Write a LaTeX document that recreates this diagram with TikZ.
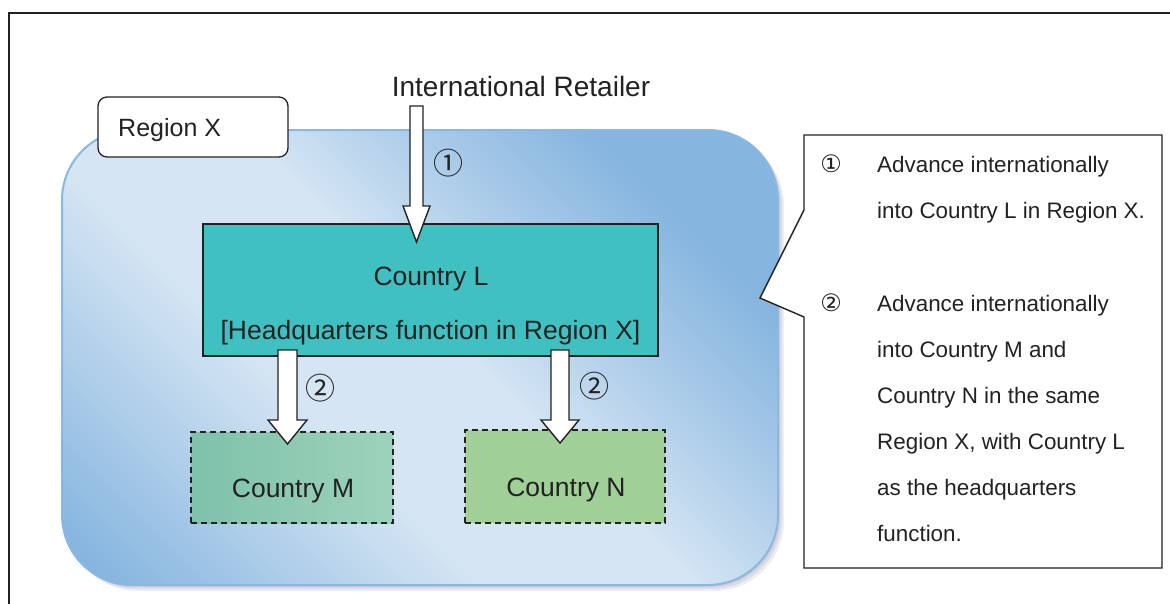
\documentclass[tikz,border=0pt]{standalone}
\usepackage{fontspec}
\setmainfont{Liberation Sans}
\newfontfamily\symfont{DejaVu Sans}
\newfontfamily\cjkfont{Noto Sans CJK JP}
\usetikzlibrary{calc}
\definecolor{rdark}{HTML}{86B5DF}
\definecolor{rlight}{HTML}{D5E5F3}
\colorlet{rmid}{rdark!50!rlight}
\definecolor{rborder}{HTML}{8AB8E0}
\definecolor{clfill}{HTML}{40C0C0}
\definecolor{cmA}{HTML}{7FC1AB}
\definecolor{cmB}{HTML}{9DD2BA}
\definecolor{cnfill}{HTML}{A0CF98}
\definecolor{inkc}{HTML}{222222}
\pgfdeclareverticalshading{regionshade}{100bp}{color(0bp)=(rdark); color(27bp)=(rdark); color(35bp)=(rmid); color(43bp)=(rlight); color(52bp)=(rlight); color(59bp)=(rmid); color(67bp)=(rdark); color(100bp)=(rdark)}
\newcommand\fsz[1]{\fontsize{#1}{#1}\selectfont}
\newcommand\blockarrow[5]{%
  \draw[blockarr] ($(#1)+(-#3,0)$) -- ($(#1)+(#3,0)$) -- ($(#2)+(#3,-#5)$) -- ($(#2)+(#4,-#5)$) -- (#2) -- ($(#2)+(-#4,-#5)$) -- ($(#2)+(-#3,-#5)$) -- cycle;}
\begin{document}
\begin{tikzpicture}[x=1pt,y=-1pt,
  framel/.style={draw=inkc,line width=2pt},
  regionbox/.style={draw=rborder,line width=2pt,rounded corners=70pt,
    path picture={\shade[shading=regionshade,shading angle=-45] ($(rc)+(-415,-415)$) rectangle ($(rc)+(415,415)$);}},
  shadowbox/.style={fill=black!70!blue,opacity=0.07,rounded corners=70pt},
  labelbox/.style={draw=inkc,fill=white,line width=1.3pt,rounded corners=9pt},
  lbox/.style={draw=inkc,fill=clfill,line width=1.4pt},
  mbox/.style={draw=inkc,left color=cmA,right color=cmB,line width=1.4pt,dash pattern=on 6pt off 4pt},
  nbox/.style={draw=inkc,fill=cnfill,line width=1.4pt,dash pattern=on 6pt off 4pt},
  blockarr/.style={draw=inkc,fill=white,line width=1.4pt,line join=miter},
  callout/.style={draw=inkc,fill=white,line width=1.4pt},
  big/.style={inner sep=0pt,text=inkc,font=\fsz{28}},
  boxtxt/.style={inner sep=0pt,text=inkc,font=\fsz{26.5}},
  ctxt/.style={inner sep=0pt,text=inkc,font=\fsz{22.4},anchor=base west},
  cnum/.style={inner sep=0pt,text=inkc,font=\symfont\fsz{24},anchor=base},
  anum/.style={inner sep=0pt,text=inkc,font=\cjkfont\fsz{30}}]
\useasboundingbox (0,0) rectangle (1170,603);
% outer frame
\draw[framel] (9,610) -- (9,13) -- (1180,13);
% region X
\coordinate (rc) at (420,357.5);
\foreach \s in {2,4,6}{
  \node[shadowbox,minimum width=716pt,minimum height=455pt] at ($(rc)+(\s,\s)$) {};}
\node[regionbox,minimum width=716pt,minimum height=455pt] (region) at (rc) {};
\node[labelbox,minimum width=190pt,minimum height=60pt] (rlabel) at (193,127) {};
\node[boxtxt,font=\fsz{25},anchor=base west] (rtext) at (118,136) {Region X};
% title
\node[big,anchor=base] (retailer) at (521,96) {International Retailer};
% countries
\node[lbox,minimum width=455pt,minimum height=132pt] (L) at (430.5,290) {};
\node[boxtxt,anchor=base] (Ltxt) at (431,285) {Country L};
\node[boxtxt,anchor=base] (Ltxt2) at (430.5,339) {[Headquarters function in Region X]};
\node[mbox,minimum width=202pt,minimum height=91pt] (M) at (292,477.5) {};
\node[boxtxt,anchor=base] (Mtxt) at (293,497) {Country M};
\node[nbox,minimum width=200pt,minimum height=93pt] (N) at (565,476.5) {};
\node[boxtxt,anchor=base] (Ntxt) at (566,496) {Country N};
% arrows
\coordinate (a1s) at (416.5,106);
\coordinate (a1t) at (416.5,242);
\blockarrow{a1s}{a1t}{6.5}{13.5}{36}
\coordinate (a2s) at (287.5,350);
\coordinate (a2t) at (287.5,444);
\blockarrow{a2s}{a2t}{9.5}{19.5}{24}
\coordinate (a3s) at (560,350);
\coordinate (a3t) at (560,443);
\blockarrow{a3s}{a3t}{9}{19}{23}
\node[anum] (n1a) at (448,163) {①};
\node[anum] (n2a) at (320,388) {②};
\node[anum] (n2b) at (594,386) {②};
% callout
\draw[callout] (804,135) -- (1162,135) -- (1162,568) -- (804,568) -- (804,317) -- (760,298) -- (804,210) -- cycle;
\node[cnum] (c1n) at (831,172) {①};
\node[ctxt] (c1) at (877,172) {Advance internationally};
\node[ctxt] (c2) at (877,218) {into Country L in Region X.};
\node[cnum] (c2n) at (831,311) {②};
\node[ctxt] (c3) at (877,311) {Advance internationally};
\node[ctxt] (c4) at (877,357) {into Country M and};
\node[ctxt] (c5) at (877,403) {Country N in the same};
\node[ctxt] (c6) at (877,449) {Region X, with Country L};
\node[ctxt] (c7) at (877,495) {as the headquarters};
\node[ctxt] (c8) at (877,541) {function.};
\end{tikzpicture}
\end{document}
